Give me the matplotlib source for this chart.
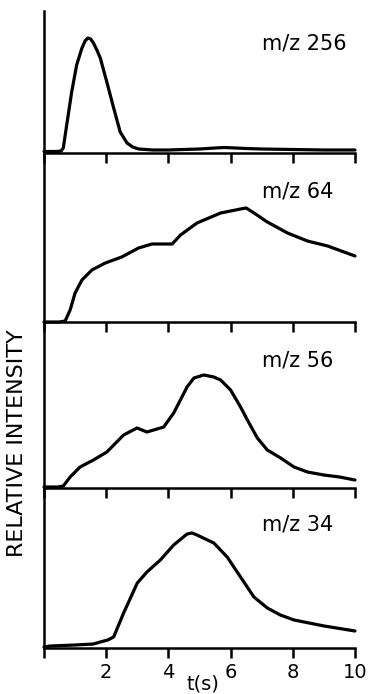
# Stacked mass-channel traces vs time, four panels sharing one x axis.

from matplotlib import pyplot as plt

# Time axis ticks (s)
x_ticks = [0, 2, 4, 6, 8, 10]
x_tick_labels = ["", "2", "4", "6", "8", "10"]

# Channel labels, top to bottom
channels = ["m/z 256", "m/z 64", "m/z 56", "m/z 34"]

# Traces: time (s) and relative intensity (arbitrary units)
t_256 = [0.0, 0.4, 0.55, 0.62, 0.73, 0.89, 1.05, 1.22, 1.32, 1.41, 1.5, 1.59,
         1.7, 1.81, 2.02, 2.24, 2.45, 2.67, 2.85, 3.04, 3.5, 4.0, 4.5, 5.0,
         5.5, 5.8, 6.5, 7.0, 8.0, 9.0, 10.0]
i_256 = [1.5, 1.5, 2, 5, 28, 61, 88, 105, 112, 115, 114, 110,
         103, 95, 71, 45, 21, 10, 6, 4, 3, 3, 3.5, 4,
         5, 5.5, 4.5, 4, 3.5, 3, 3]

t_64 = [0.0, 0.5, 0.68, 0.84, 1.0, 1.22, 1.54, 1.97, 2.5, 3.04, 3.47, 3.8,
        4.12, 4.39, 4.92, 5.3, 5.68, 6.0, 6.32, 6.5, 6.8, 7.18, 7.83, 8.47,
        9.12, 10.0]
i_64 = [0, 0, 1, 12, 29, 42, 52, 59, 65, 74, 78, 78,
        78, 87, 99, 104, 109, 111, 113, 114, 108, 100, 89, 81,
        76, 66]

t_56 = [0.0, 0.45, 0.62, 0.84, 1.16, 1.59, 2.02, 2.56, 2.99, 3.31, 3.85,
        4.17, 4.6, 4.82, 5.14, 5.46, 5.68, 6.0, 6.32, 6.54, 6.86, 7.18,
        7.61, 8.04, 8.47, 9.0, 9.5, 10.0]
i_56 = [1, 1, 2, 11, 21, 28, 36, 53, 60, 56, 61,
        75, 101, 110, 113, 111, 108, 98, 81, 68, 50, 38,
        30, 21, 16, 13, 11, 8]

t_34 = [0.0, 0.2, 1.0, 1.59, 1.81, 2.05, 2.24, 2.56, 3.0, 3.31, 3.74, 4.17,
        4.6, 4.76, 4.92, 5.46, 5.89, 6.32, 6.75, 7.18, 7.6, 8.04, 9.01, 10.0]
i_34 = [1, 2, 3, 4, 6, 8, 11, 35, 65, 76, 88, 103,
        114, 115, 113, 105, 91, 71, 51, 40, 33, 28, 22, 17]

traces = [(t_256, i_256), (t_64, i_64), (t_56, i_56), (t_34, i_34)]

# Panel frames in pixel rows (top, bottom) of the 694 px tall figure
FIG_W, FIG_H = 371, 694
LEFT, RIGHT = 44, 355
PANEL_ROWS = [(11, 153), (153, 322), (322, 488), (488, 648)]


def main() -> None:
    plt.rcParams["font.family"] = ["DejaVu Sans"]
    fig = plt.figure(figsize=(FIG_W / 100, FIG_H / 100), dpi=100)

    for k, ((top, bottom), (t, inten), label) in enumerate(
            zip(PANEL_ROWS, traces, channels)):
        ax = fig.add_axes([LEFT / FIG_W, 1 - bottom / FIG_H,
                           (RIGHT - LEFT) / FIG_W, (bottom - top) / FIG_H])
        # Transparent background so the next panel doesn't hide this spine.
        ax.patch.set_visible(False)
        ax.plot(t, inten, color="black", lw=2.3, solid_capstyle="round",
                solid_joinstyle="round", clip_on=False)
        ax.set_xlim(0, 10)
        ax.set_ylim(0, bottom - top)

        for side in ("top", "right"):
            ax.spines[side].set_visible(False)
        for side in ("left", "bottom"):
            ax.spines[side].set_linewidth(1.8)

        ax.set_yticks([])
        ax.set_xticks(x_ticks)
        ax.tick_params(axis="x", direction="out", length=7, width=1.8,
                       pad=4, labelsize=14)
        if k == len(PANEL_ROWS) - 1:
            ax.set_xticklabels(x_tick_labels)
        else:
            ax.set_xticklabels([])

        ax.text(0.70, 0.77, label, transform=ax.transAxes, fontsize=15,
                ha="left", va="center")

    fig.text(203 / FIG_W, 1 - 684 / FIG_H, "t(s)", fontsize=14,
             ha="center", va="center")
    fig.text(17 / FIG_W, 1 - 443 / FIG_H, "RELATIVE INTENSITY", fontsize=16,
             rotation=90, ha="center", va="center")

    fig.savefig("out.png", dpi=100)


if __name__ == "__main__":
    main()
